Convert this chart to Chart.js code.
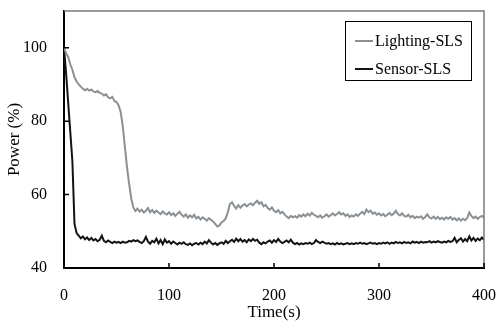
<!DOCTYPE html>
<html>
<head>
<meta charset="utf-8">
<script src="https://cdn.jsdelivr.net/npm/chart.js@4.4.1/dist/chart.umd.min.js"></script>
<style>
  html, body { margin: 0; padding: 0; background: #fff; }
  #wrap { width: 496px; height: 327px; }
</style>
</head>
<body>
<div id="wrap"><canvas id="grafico"></canvas></div>
<script>
// time axis, sampled every 2 s from 0 to 400
const tiempos = [];
for (let t = 0; t <= 400; t += 2) tiempos.push(t);

const lightingSLS = [
  100, 98.5, 97.5, 95.5, 94, 92, 90.8, 90, 89.4, 88.8,
  88.4, 88.8, 88.3, 88.6, 88.1, 87.9, 88.2, 87.7, 87.5, 87.0,
  87.3, 86.5, 86.2, 86.6, 85.5, 85.2, 84.3, 82.5, 78.5, 73,
  67.5, 63, 59, 56.5, 55.5, 56.2, 55.4, 55.9, 55.1, 55.6,
  56.3, 55.2, 55.8, 55.0, 55.6, 55.1, 54.7, 55.4, 54.9, 54.6,
  55.2, 54.4, 54.9, 54.2, 54.8, 55.3, 54.5, 54.0, 54.6, 53.7,
  54.3, 53.8, 54.5, 53.5, 53.9, 53.2, 53.8, 53.4, 52.9, 53.6,
  53.1, 52.7, 52.0, 51.3, 51.6, 52.4, 52.8, 53.5, 55.2, 57.4,
  57.9, 56.9, 56.2, 57.1, 56.4, 57.0, 57.4, 56.8, 57.3, 57.6,
  57.1, 57.8, 58.3, 57.5, 57.9, 56.8, 57.2, 56.3, 55.9, 56.5,
  55.6, 55.2, 55.8, 54.9, 55.3, 54.6, 54.0, 53.6, 54.2, 53.8,
  54.1, 53.7, 54.4, 54.0, 54.6, 54.1, 54.8, 54.3, 55.0, 54.5,
  54.2, 53.8, 54.3, 53.7, 54.1, 54.6, 54.0, 54.4, 54.9, 54.3,
  54.7, 55.2, 54.6, 54.9, 54.2, 54.6, 53.9, 54.3, 54.0, 54.6,
  54.2, 54.8, 55.3, 54.7, 55.9, 55.2, 55.6, 54.8, 55.1, 54.5,
  54.9, 54.3, 54.7, 54.1, 54.5, 55.0, 54.4, 54.8, 55.6, 54.7,
  54.3, 54.9, 54.2, 54.0, 54.5, 53.8, 54.2, 53.6, 54.0, 53.7,
  54.1, 53.4, 53.9, 54.6, 53.8, 53.5, 54.0, 53.4, 53.9, 53.3,
  53.7, 53.2, 53.8, 53.4, 53.9, 53.2, 53.6, 53.0, 53.5, 52.9,
  53.4, 53.0, 53.6, 55.1, 54.2, 53.6, 54.0, 53.4, 53.9, 54.2,
  53.7
];

const sensorSLS = [
  100, 93, 85, 77, 69, 52, 49.5, 48.8, 48.1, 48.6,
  47.8, 48.3, 47.6, 48.2, 47.5, 47.9, 47.3, 47.7, 48.8, 47.4,
  47.0, 47.5, 47.1, 46.8, 47.2, 46.9, 47.1, 46.8, 47.2, 46.9,
  47.0, 47.4, 47.2, 47.6, 47.3, 47.5, 47.1, 46.8, 47.3, 48.5,
  47.2, 46.6, 47.4, 47.0, 48.0, 46.7, 47.6, 46.5, 47.8, 46.9,
  47.3, 46.6, 47.2, 46.8, 46.4, 46.9, 46.6, 47.0, 46.5, 46.3,
  46.7, 46.2, 46.6, 46.8, 46.4, 46.9, 46.5, 47.2, 46.7, 47.6,
  46.9, 46.4, 46.8, 46.3, 46.7, 47.0, 46.6, 47.4, 46.8, 47.3,
  47.7, 47.1, 48.0, 47.3, 47.9, 47.2, 47.6, 47.0, 47.8, 47.3,
  47.9, 47.4, 47.7, 46.9, 46.5, 47.0, 46.7, 47.2, 47.5, 46.9,
  47.6, 47.1, 47.9, 47.2, 46.8, 47.1, 47.5, 47.0, 47.7, 46.9,
  46.5, 46.8, 46.4, 46.7, 46.5, 46.8, 46.6, 46.9, 46.5, 46.8,
  47.6, 47.1, 46.8, 47.2, 46.9, 46.6, 46.8, 46.5, 46.7, 46.4,
  46.8, 46.5, 46.7, 46.4, 46.6, 46.8, 46.5, 46.7, 46.5, 46.8,
  46.6, 46.9, 46.6, 46.8, 46.5, 46.7, 46.9, 46.6, 46.8, 46.5,
  46.8, 46.6, 46.9, 46.7, 47.0, 46.6, 46.9, 46.7, 47.1, 46.8,
  47.0, 46.7, 47.1, 46.8, 47.0, 46.7, 47.2, 46.9, 47.1, 46.8,
  47.2, 46.9, 47.1, 47.0, 47.3, 46.9, 47.2, 47.0, 47.3, 47.1,
  46.9, 47.2, 47.0, 47.4, 47.1, 47.3, 48.2, 47.0, 47.6, 48.1,
  47.2, 47.9, 47.3, 48.6, 47.5, 48.2, 47.4, 48.0, 47.6, 48.3,
  47.7
];

const xTicks = [0, 100, 200, 300, 400];
const yTicks = [40, 60, 80, 100];

const serif = '"Liberation Serif", "Times New Roman", serif';
Chart.defaults.font.family = serif;
Chart.defaults.color = "#000";

// frame, inward tick marks and boxed legend
const marco = {
  id: "marco",
  afterDraw(chart) {
    const { ctx, chartArea: a, scales } = chart;
    ctx.save();
    ctx.strokeStyle = "#7a7a7a";
    ctx.lineWidth = 1.5;
    ctx.beginPath();
    ctx.moveTo(a.left, a.top);
    ctx.lineTo(a.right, a.top);
    ctx.lineTo(a.right, a.bottom);
    ctx.stroke();

    ctx.strokeStyle = "#000";
    ctx.lineWidth = 1.5;
    ctx.beginPath();
    yTicks.forEach((v) => {
      const y = scales.y.getPixelForValue(v);
      ctx.moveTo(a.left, y);
      ctx.lineTo(a.left + 5, y);
    });
    xTicks.forEach((v) => {
      const x = scales.x.getPixelForValue(v);
      ctx.moveTo(x, a.bottom);
      ctx.lineTo(x, a.bottom - 5);
    });
    ctx.stroke();

    // legend
    const lx = 345, ly = 21, lw = 126, lh = 59;
    ctx.fillStyle = "#fff";
    ctx.fillRect(lx, ly, lw, lh);
    ctx.strokeStyle = "#000";
    ctx.lineWidth = 1;
    ctx.strokeRect(lx + 0.5, ly + 0.5, lw, lh);
    ctx.font = "16px " + serif;
    ctx.textBaseline = "middle";
    chart.data.datasets.forEach((ds, i) => {
      const y = ly + 20 + i * 28;
      ctx.strokeStyle = ds.borderColor;
      ctx.lineWidth = 2;
      ctx.beginPath();
      ctx.moveTo(lx + 10, y);
      ctx.lineTo(lx + 28, y);
      ctx.stroke();
      ctx.fillStyle = "#000";
      ctx.fillText(ds.label, lx + 30, y + 1);
    });
    ctx.restore();
  },
};

new Chart(document.querySelector("#grafico"), {
  type: "line",
  data: {
    labels: tiempos,
    datasets: [
      {
        label: "Lighting-SLS",
        data: lightingSLS,
        borderColor: "#8a9094",
        borderWidth: 2,
        pointRadius: 0,
        tension: 0,
      },
      {
        label: "Sensor-SLS",
        data: sensorSLS,
        borderColor: "#141414",
        borderWidth: 2,
        pointRadius: 0,
        tension: 0,
      },
    ],
  },
  options: {
    responsive: true,
    maintainAspectRatio: false,
    animation: false,
    layout: { padding: { top: 11, right: 12, left: 0, bottom: 0 } },
    plugins: { legend: { display: false }, tooltip: { enabled: false } },
    scales: {
      x: {
        type: "linear",
        min: 0,
        max: 400,
        afterBuildTicks: (s) => { s.ticks = xTicks.map((v) => ({ value: v })); },
        afterFit: (s) => { s.height = 59; s.paddingLeft = 0; s.paddingRight = 0; },
        grid: { display: false, drawTicks: false },
        border: { display: true, color: "#000", width: 2 },
        ticks: { font: { size: 16 }, padding: 18, maxRotation: 0 },
        title: { display: true, text: "Time(s)", font: { size: 17 }, padding: { top: 0 } },
      },
      y: {
        min: 40,
        max: 110,
        afterBuildTicks: (s) => { s.ticks = yTicks.map((v) => ({ value: v })); },
        afterFit: (s) => { s.width = 64; s.paddingTop = 0; s.paddingBottom = 0; },
        grid: { display: false, drawTicks: false },
        border: { display: true, color: "#000", width: 2 },
        ticks: { font: { size: 16 }, padding: 17 },
        title: { display: true, text: "Power (%)", font: { size: 17 }, padding: { bottom: 0 } },
      },
    },
  },
  plugins: [marco],
});
</script>
</body>
</html>
